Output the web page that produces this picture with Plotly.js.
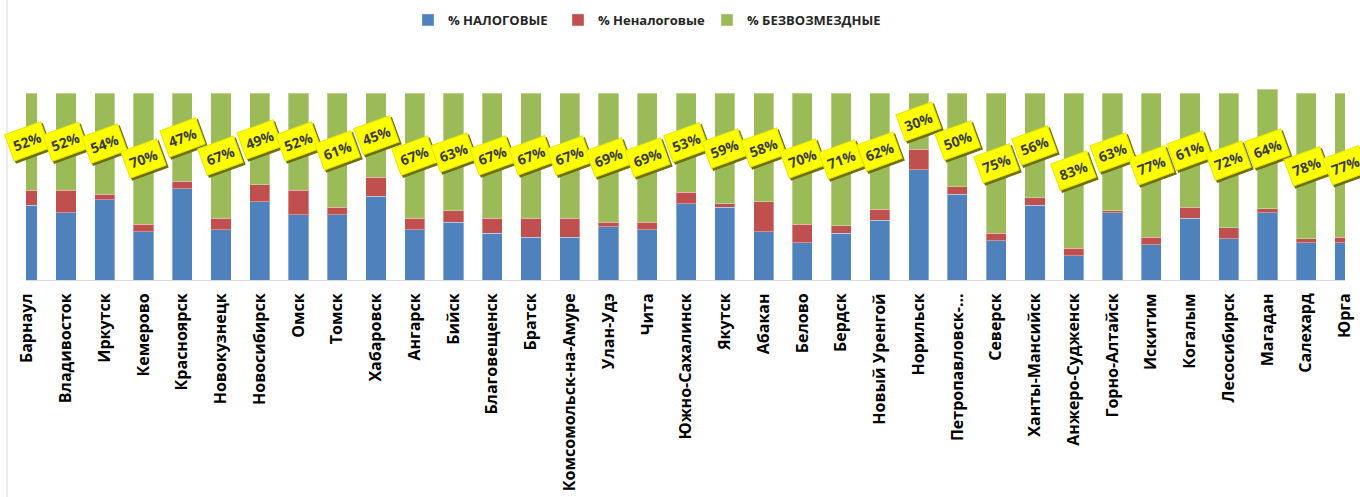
<!DOCTYPE html>
<html>
<head>
<meta charset="utf-8">
<script src="https://cdn.plot.ly/plotly-3.0.1.min.js"></script>
<style>html,body{margin:0;padding:0;background:#fff;}#chart{width:1360px;height:497px;}</style>
</head>
<body>
<div id="chart"></div>
<script>
const cities = ["Барнаул","Владивосток","Иркутск","Кемерово","Красноярск","Новокузнецк","Новосибирск","Омск","Томск","Хабаровск","Ангарск","Бийск","Благовещенск","Братск","Комсомольск-на-Амуре","Улан-Удэ","Чита","Южно-Сахалинск","Якутск","Абакан","Белово","Бердск","Новый Уренгой","Норильск","Петропавловск-...","Северск","Ханты-Мансийск","Анжеро-Судженск","Горно-Алтайск","Искитим","Когалым","Лесосибирск","Магадан","Салехард","Юрга"];
const taxPct    = [40,36,43,26,49,27,42,35,35,45,27,31,25,23,23,28.5,27,41,39,26,20,25,32,59,46,21,40,13,36,19,33,22,36,20,20];
const nonTaxPct = [8,12,3,4,4,6,9,13,4,10,6,6,8,10,10,2.5,4,6,2,16,10,4,6,11,4,4,4,4,1,4,6,6,2.3,2,3];
const freePct   = [52,52,54,70,47,67,49,52,61,45,67,63,67,67,67,69,69,53,59,58,70,71,62,30,50,75,56,83,63,77,61,72,64,78,77];
const seriesNames = ["% НАЛОГОВЫЕ","% Неналоговые","% БЕЗВОЗМЕЗДНЫЕ"];

const colors = ["#4f81bd","#c0504d","#9bbb59"];
const legendIds = ["legend","legend2","legend3"];
const legendX = [408, 558, 707];
const vals = [taxPct, nonTaxPct, freePct];
const traces = vals.map((v,i)=>({
  type:"bar", x:cities, y:v, name:seriesNames[i], legend:legendIds[i],
  marker:{color:colors[i], line:{color:"rgba(255,255,255,0.35)", width:1}},
  hoverinfo:"skip"
}));

const annotations = [];
cities.forEach((c,i)=>{
  const yc = taxPct[i] + nonTaxPct[i] + freePct[i]/2;
  const txt = "<b>" + Math.round(freePct[i]) + "%</b>";
  annotations.push({x:c, y:yc, xref:"x", yref:"y", text:txt, showarrow:false,
    textangle:-20, font:{family:"Open Sans", size:14, color:"#6e6e00"},
    bgcolor:"#6e6e00", bordercolor:"#6e6e00", borderwidth:1, borderpad:4,
    xshift:2, yshift:-2});
  annotations.push({x:c, y:yc, xref:"x", yref:"y", text:txt, showarrow:false,
    textangle:-20, font:{family:"Open Sans", size:14, color:"#3a3a3a"},
    bgcolor:"#ffff00", bordercolor:"#e6e600", borderwidth:1, borderpad:4});
});

const layout = {
  width:1360, height:497,
  margin:{l:26, r:15, t:86, b:217, pad:0, autoexpand:false},
  paper_bgcolor:"#ffffff", plot_bgcolor:"#ffffff",
  barmode:"stack", bargap:0.48,
  showlegend:true,
  xaxis:{type:"category", range:[-0.03, 34.0], tickangle:-90, ticklabelstandoff:6,
    tickfont:{family:"Open Sans", size:16, color:"#000000", weight:"bold"},
    showline:true, linecolor:"#d9d9d9", linewidth:1, ticks:"", showgrid:false, automargin:false},
  yaxis:{range:[0,104], visible:false, showgrid:false, zeroline:false},
  annotations:annotations,
  shapes:[{type:"line", xref:"paper", yref:"paper", x0:-0.0144, x1:-0.0144, y0:-1.12, y1:1.45,
    line:{color:"#d9d9d9", width:1}}],
  font:{family:"Open Sans"}
};
legendIds.forEach((id,i)=>{
  layout[id] = {orientation:"h", xref:"container", yref:"container", x:legendX[i]/1360, xanchor:"left",
    y:1-20/497, yanchor:"middle", bgcolor:"rgba(0,0,0,0)",
    font:{family:"Open Sans", size:13, color:"#262626", weight:"bold"}, itemwidth:30};
});
Plotly.newPlot("chart", traces, layout, {staticPlot:true});
</script>
</body>
</html>
